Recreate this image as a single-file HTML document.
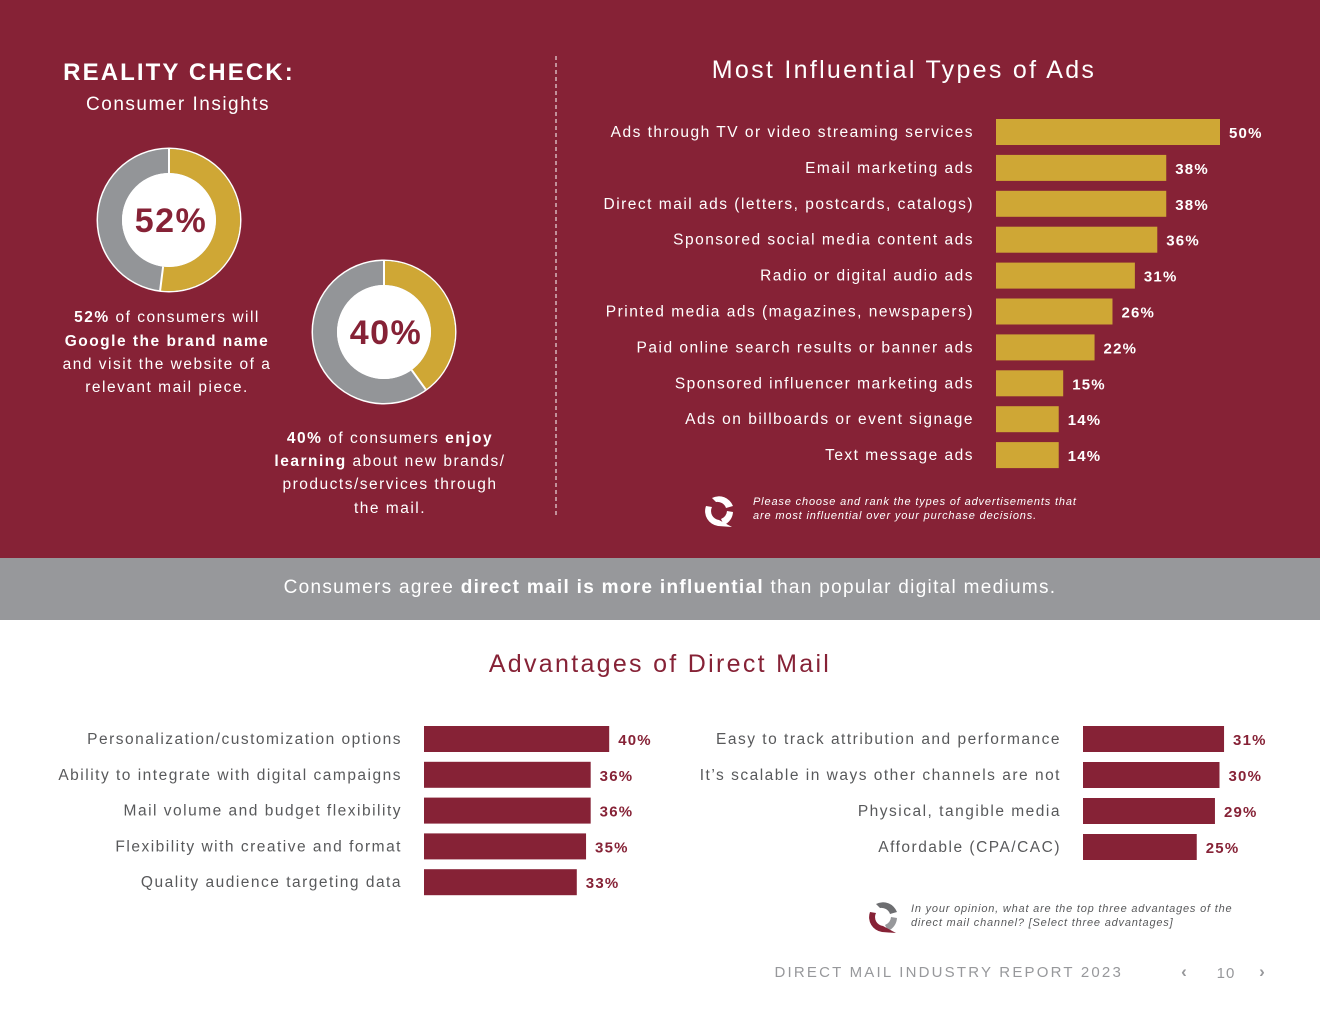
<!DOCTYPE html>
<html><head><meta charset="utf-8">
<style>
html,body{margin:0;padding:0;width:1320px;height:1020px;overflow:hidden;background:#fff;font-family:"Liberation Sans",sans-serif;}
svg text{font-family:"Liberation Sans",sans-serif;}
</style></head>
<body>
<svg id="s" width="1320" height="1020" viewBox="0 0 1320 1020" xmlns="http://www.w3.org/2000/svg">
  <rect x="0" y="0" width="1320" height="558" fill="#862236"/>
  <rect x="0" y="558" width="1320" height="62" fill="#97989b"/>
  <text x="670" y="593" text-anchor="middle" font-size="19" fill="#fff" letter-spacing="1.3">Consumers agree <tspan font-weight="bold">direct mail is more influential</tspan> than popular digital mediums.</text>
  <line x1="556" y1="56" x2="556" y2="516" stroke="#fff" stroke-width="1" stroke-dasharray="4,3"/>
  <text x="179" y="80" text-anchor="middle" font-size="24" font-weight="bold" fill="#fff" letter-spacing="2.1">REALITY CHECK:</text>
  <text x="178" y="110" text-anchor="middle" font-size="19" fill="#fff" letter-spacing="1.5">Consumer Insights</text>
  <g id="donuts"></g>
  <g font-size="15.5" fill="#fff" text-anchor="middle" letter-spacing="1.5">
    <text x="167" y="322"><tspan font-weight="bold">52%</tspan> of consumers will</text>
    <text x="167" y="346" font-weight="bold">Google the brand name</text>
    <text x="167" y="369">and visit the website of a</text>
    <text x="167" y="392">relevant mail piece.</text>
  </g>
  <g font-size="15.5" fill="#fff" text-anchor="middle" letter-spacing="1.5">
    <text x="390" y="443"><tspan font-weight="bold">40%</tspan> of consumers <tspan font-weight="bold">enjoy</tspan></text>
    <text x="390" y="466"><tspan font-weight="bold">learning</tspan> about new brands/</text>
    <text x="390" y="489">products/services through</text>
    <text x="390" y="513">the mail.</text>
  </g>
  <text x="904" y="78" text-anchor="middle" font-size="25" fill="#fff" letter-spacing="2.3">Most Influential Types of Ads</text>
  <g id="adsChart"></g>
  <g>
    <g transform="translate(720,510)">
      <path d="M-8,-12 A15,15 0 0 1 13,-4 L6,-2 A9,9 0 0 0 -4,-8 Z" fill="#fff"/>
      <path d="M13,2 A15,15 0 0 1 4,15 L1,9 A9,9 0 0 0 7,1 Z" fill="#fff"/>
      <path d="M-2,16 A15,15 0 0 1 -14,-4 L-8,-3 A9,9 0 0 0 -1,10 L12,17 Z" fill="#fff"/>
    </g>
    <text x="753" y="505" font-size="11" font-style="italic" fill="#fff" letter-spacing="0.85">Please choose and rank the types of advertisements that</text>
    <text x="753" y="519" font-size="11" font-style="italic" fill="#fff" letter-spacing="0.85">are most influential over your purchase decisions.</text>
  </g>
  <text x="660" y="672" text-anchor="middle" font-size="25" fill="#862236" letter-spacing="2.3">Advantages of Direct Mail</text>
  <g id="advLeft"></g>
  <g id="advRight"></g>
  <g>
    <g transform="translate(884,916)">
      <path d="M-8,-12 A15,15 0 0 1 13,-4 L6,-2 A9,9 0 0 0 -4,-8 Z" fill="#6d6e71"/>
      <path d="M13,2 A15,15 0 0 1 4,15 L1,9 A9,9 0 0 0 7,1 Z" fill="#97989b"/>
      <path d="M-2,16 A15,15 0 0 1 -14,-4 L-8,-3 A9,9 0 0 0 -1,10 L12,17 Z" fill="#862236"/>
    </g>
    <text x="911" y="912" font-size="11" font-style="italic" fill="#58595b" letter-spacing="0.8">In your opinion, what are the top three advantages of the</text>
    <text x="911" y="926" font-size="11" font-style="italic" fill="#58595b" letter-spacing="0.8">direct mail channel? [Select three advantages]</text>
  </g>
  <text x="1123" y="977" text-anchor="end" font-size="15" fill="#97989b" letter-spacing="2.2">DIRECT MAIL INDUSTRY REPORT 2023</text>
  <text x="1184" y="977" text-anchor="middle" font-size="17" font-weight="bold" fill="#97989b">‹</text>
  <text x="1226" y="978" text-anchor="middle" font-size="15" fill="#97989b" letter-spacing="1">10</text>
  <text x="1262" y="977" text-anchor="middle" font-size="17" font-weight="bold" fill="#97989b">›</text>
</svg>
<script>
const adCategories=["Ads through TV or video streaming services","Email marketing ads","Direct mail ads (letters, postcards, catalogs)","Sponsored social media content ads","Radio or digital audio ads","Printed media ads (magazines, newspapers)","Paid online search results or banner ads","Sponsored influencer marketing ads","Ads on billboards or event signage","Text message ads"];
const adValues=[50,38,38,36,31,26,22,15,14,14];
const advLeftCategories=["Personalization/customization options","Ability to integrate with digital campaigns","Mail volume and budget flexibility","Flexibility with creative and format","Quality audience targeting data"];
const advLeftValues=[40,36,36,35,33];
const advRightCategories=["Easy to track attribution and performance","It’s scalable in ways other channels are not","Physical, tangible media","Affordable (CPA/CAC)"];
const advRightValues=[31,30,29,25];
const donutValues=[52,40];

const NS="http://www.w3.org/2000/svg";
function mk(tag,attrs,parent){const e=document.createElementNS(NS,tag);for(const k in attrs)e.setAttribute(k,attrs[k]);parent.appendChild(e);return e;}

function barChart(gid,cats,vals,o){
  const g=document.getElementById(gid);
  const xs=v=>v*o.pxPer;
  cats.forEach((c,i)=>{
    const cy=o.y0+i*o.step;
    const t=mk("text",{x:o.labelX,y:cy+5,"text-anchor":"end","font-size":15.5,fill:o.labelColor,"letter-spacing":"1.5"},g);
    
    
    t.textContent=c;
    const r=mk("rect",{x:o.x0,y:cy-o.h/2,width:xs(vals[i]),height:o.h,fill:o.barColor},g);
    
    
    const v=mk("text",{x:o.x0+xs(vals[i])+9,y:cy+6,"font-size":15,"font-weight":"bold",fill:o.valColor,"letter-spacing":"1.2"},g);
    
    
    v.textContent=vals[i]+"%";
  });
}
barChart("adsChart",adCategories,adValues,{x0:996,pxPer:4.48,y0:132,step:35.9,h:26,labelX:974,labelColor:"#fff",barColor:"#cfa735",valColor:"#fff"});
barChart("advLeft",advLeftCategories,advLeftValues,{x0:424,pxPer:4.63,y0:739,step:35.8,h:26,labelX:402,labelColor:"#58595b",barColor:"#862236",valColor:"#862236"});
barChart("advRight",advRightCategories,advRightValues,{x0:1083,pxPer:4.55,y0:739,step:36,h:26,labelX:1061,labelColor:"#58595b",barColor:"#862236",valColor:"#862236"});

const dg=document.getElementById("donuts");
const centers=[[169,220],[384,332]];
donutValues.forEach((v,i)=>{
  const [cx,cy]=centers[i];const R=71,r0=47,rm=(R+r0)/2,w=R-r0;
  const c0=mk("circle",{cx:cx,cy:cy,r:R+1.5,fill:"#fff"},dg);
  
  
  const bg=mk("circle",{cx:cx,cy:cy,r:rm,fill:"none",stroke:"#939598","stroke-width":w},dg);
  
  
  const a=v/100*2*Math.PI;
  const x1=cx+rm*Math.sin(a),y1=cy-rm*Math.cos(a);
  const arc=mk("path",{d:`M${cx},${cy-rm} A${rm},${rm} 0 ${v>50?1:0} 1 ${x1},${y1}`,fill:"none",stroke:"#cfa735","stroke-width":w},dg);
  
  
  const ln=mk("line",{x1:cx,y1:cy-R,x2:cx,y2:cy-r0,stroke:"#fff","stroke-width":2},dg);
  
  
  const ln2=mk("line",{x1:cx+R*Math.sin(a),y1:cy-R*Math.cos(a),x2:cx+r0*Math.sin(a),y2:cy-r0*Math.cos(a),stroke:"#fff","stroke-width":2},dg);
  
  
  const inner=mk("circle",{cx:cx,cy:cy,r:r0,fill:"#fff"},dg);
  
  
  const t=mk("text",{x:cx+2,y:cy+12,"text-anchor":"middle","font-size":34,"font-weight":"bold",fill:"#862236","letter-spacing":"1.5"},dg);
  
  
  t.textContent=v+"%";
});
</script>
</body></html>
